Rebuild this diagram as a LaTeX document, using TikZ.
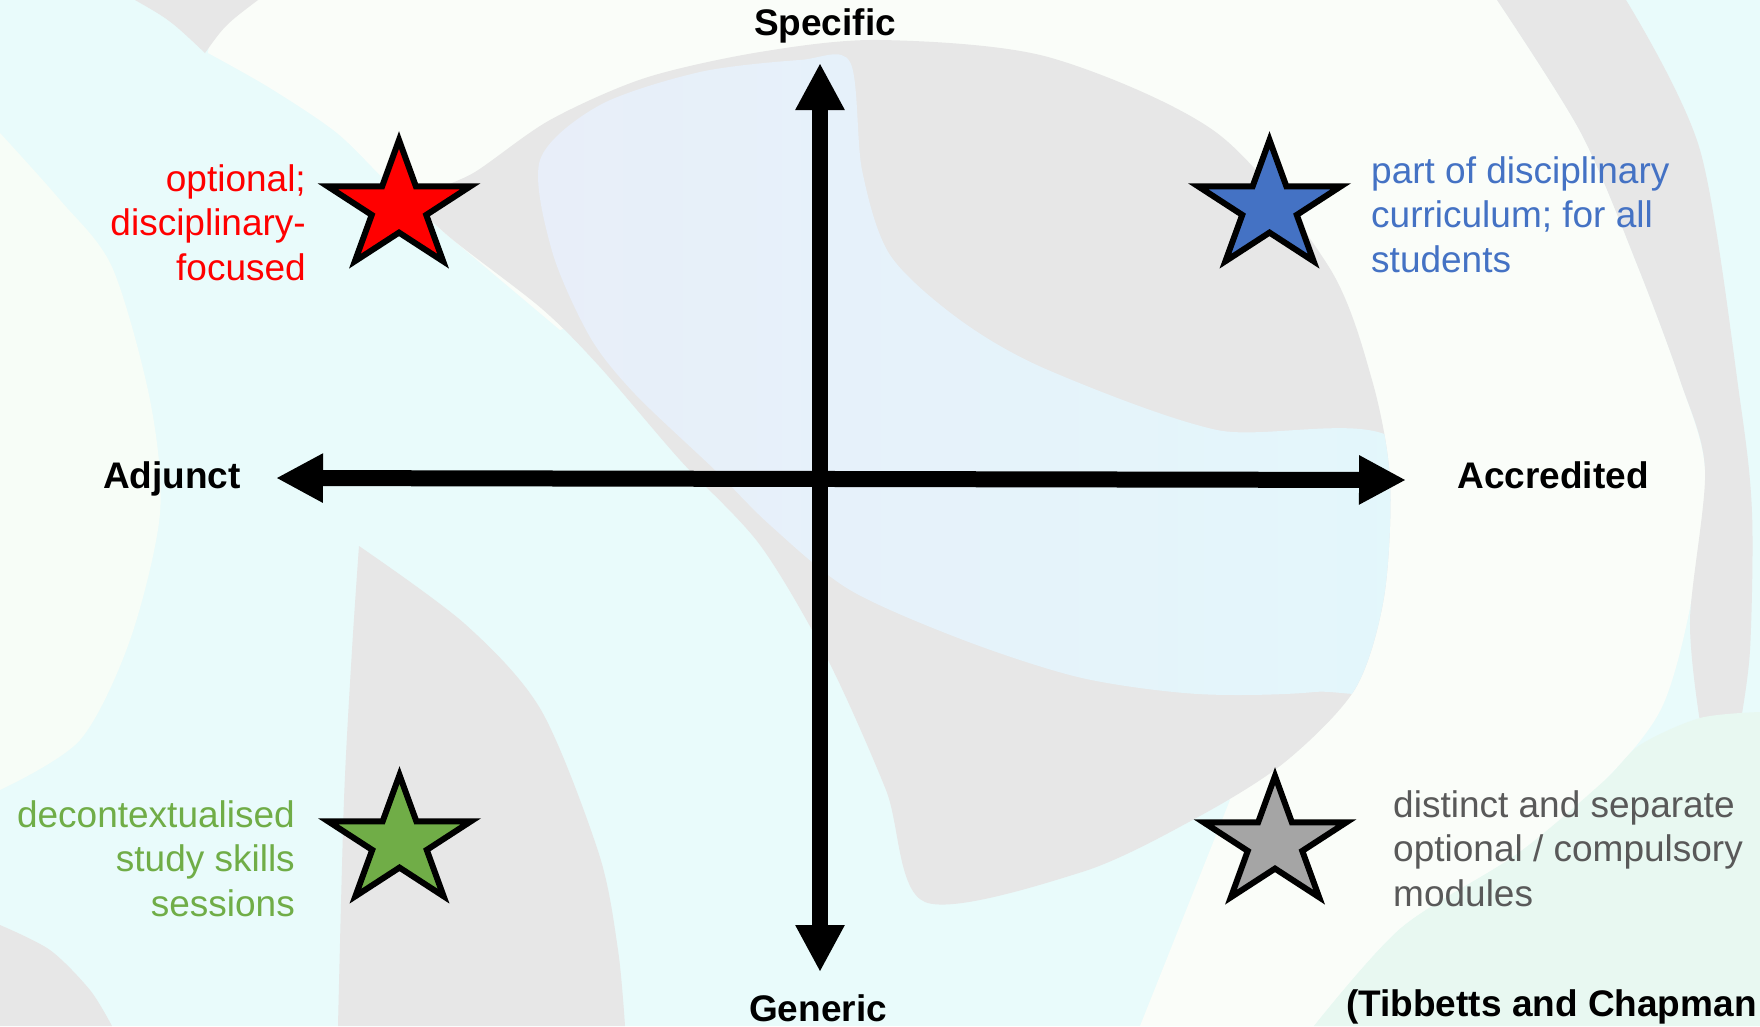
\documentclass[tikz,border=0pt]{standalone}
\usepackage{fontspec}
\setmainfont{Liberation Sans}
\usetikzlibrary{arrows.meta,shapes.geometric}
\definecolor{bgcyan}{HTML}{E9FBFB}
\definecolor{bgwhite}{HTML}{FAFDF9}
\definecolor{bggray}{HTML}{E7E7E7}
\definecolor{bglav}{HTML}{E8EEF9}
\definecolor{bgaqua}{HTML}{E3F7FB}
\definecolor{bgmint}{HTML}{E8F8F1}
\definecolor{bgcream}{HTML}{F7FDF7}
\definecolor{cred}{HTML}{FF0000}
\definecolor{cblue}{HTML}{4472C4}
\definecolor{cgreen}{HTML}{70AD47}
\definecolor{cgraystar}{HTML}{A5A5A5}
\definecolor{cgraytext}{HTML}{595959}
\begin{document}
\begin{tikzpicture}[x=1pt,y=-1pt,
  axislabel/.style={font=\fontsize{37}{44.5}\selectfont\bfseries, inner sep=0pt, anchor=base},
  note/.style={font=\fontsize{37}{44.5}\selectfont, inner sep=0pt},
  starnode/.style={star, star points=5, star point ratio=2.618, minimum size=134pt, inner sep=0pt, draw=black, line width=6pt, line join=miter, xscale=1.12, transform shape},
  axisline/.style={line width=16pt, {Triangle[length=47pt,width=46pt]}-{Triangle[length=47pt,width=46pt]}},
]
\useasboundingbox (0,0) rectangle (1760,1026);
\clip (0,0) rectangle (1760,1026);
% ---------- background ----------
\fill[bgcyan] (0,0) rectangle (1760,1026);
\fill[bgcream] plot[smooth] coordinates {(0,133) (60,200) (112,267) (150,400) (160,513) (130,640) (80,740) (0,790)} -- cycle;
\fill[bgwhite] (215,0) -- (960,0) -- (960,200) -- (560,330) -- plot[smooth] coordinates {(446,234) (390,185) (337,133) (270,88) (208,53)} -- cycle;
\fill[bggray] (135,0) .. controls (170,20) .. (205,53) .. controls (225,25) .. (258,0) -- cycle;
\fill[bgwhite] (950,0) -- (1497,0) -- plot[smooth] coordinates {(1497,0) (1581,133) (1638,267) (1680,380) (1705,470) (1692,597) (1662,707) (1604,781) (1517,854) (1401,928) (1314,1026)} -- (1140,1026) -- (1230,800) -- (1000,400) -- cycle;
\fill[bggray] (1497,0) -- (1626,0) -- plot[smooth] coordinates {(1626,0) (1700,150) (1740,400) (1752,513) (1750,650) (1740,725)} -- plot[smooth] coordinates {(1700,722) (1690,620) (1705,470) (1680,380) (1638,267) (1581,133) (1497,0)} -- cycle;
\fill[bgmint] plot[smooth] coordinates {(1760,712) (1700,718) (1640,745) (1604,781) (1517,854) (1401,928) (1314,1026)} -- (1760,1026) -- cycle;
\fill[bggray] plot[smooth cycle] coordinates {(420,200) (446,234) (541,308) (599,366) (680,460) (760,545) (828,660) (886,790) (925,902) (1082,872) (1198,817) (1285,762) (1355,689) (1384,597) (1390,480) (1372,380) (1329,267) (1217,133) (1048,57) (880,40) (760,52) (645,78) (550,120) (475,172)};
\begin{scope}
\clip plot[smooth cycle] coordinates {(420,200) (446,234) (541,308) (599,366) (680,460) (760,545) (828,660) (886,790) (925,902) (1082,872) (1198,817) (1285,762) (1355,689) (1384,597) (1390,480) (1372,380) (1329,267) (1217,133) (1048,57) (880,40) (760,52) (645,78) (550,120) (475,172)};
\shade[left color=bglav, right color=bgaqua] plot[smooth cycle] coordinates {(540,160) (600,105) (700,72) (800,60) (850,62) (862,170) (890,255) (960,320) (1048,370) (1217,430) (1400,445) (1400,673) (1314,692) (1198,694) (1082,678) (966,641) (850,590) (770,525) (715,470) (635,394) (590,337) (552,251)};
\end{scope}
\fill[bggray] plot[smooth] coordinates {(359,546) (352,650) (344,800) (338,1026)} -- (625,1026) -- plot[smooth] coordinates {(625,1026) (618,950) (599,854) (541,710) (465,624) (359,546)} -- cycle;
\fill[bggray] plot[smooth] coordinates {(0,925) (50,950) (90,990) (112,1026)} -- (0,1026) -- cycle;
% ---------- axes ----------
\coordinate (vtop) at (820,63);
\coordinate (vbot) at (820,972);
\coordinate (hleft) at (276,478);
\coordinate (hright) at (1406,480);
\draw[axisline] (hleft) -- (hright);
\draw[axisline] (vbot) -- (vtop);
\node[axislabel] (spec) at (825,35) {Specific};
\node[axislabel] (gen) at (818,1021) {Generic};
\node[axislabel] (adj) at (172,488) {Adjunct};
\node[axislabel] (acc) at (1553,488) {Accredited};
\node[axislabel, anchor=base west] (cite) at (1346,1016) {(Tibbetts and Chapman};
% ---------- stars ----------
\node[starnode, fill=cred] (sr) at (399,207) {};
\node[starnode, fill=cblue] (sb) at (1269.5,207) {};
\node[starnode, fill=cgreen] (sg) at (399.5,842) {};
\node[starnode, fill=cgraystar] (sy) at (1275,843) {};
% ---------- notes (anchor on the last line's baseline) ----------
\node[note, text=cred, align=right, anchor=base east] (tr) at (306,280) {optional;\\disciplinary-\\focused};
\node[note, text=cblue, align=left, anchor=base west] (tb) at (1371,272) {part of disciplinary\\curriculum; for all\\students};
\node[note, text=cgreen, align=right, anchor=base east] (tg) at (295,916) {decontextualised\\study skills\\sessions};
\node[note, text=cgraytext, align=left, anchor=base west] (ty) at (1393,906) {distinct and separate\\optional / compulsory\\modules};
\end{tikzpicture}
\end{document}
